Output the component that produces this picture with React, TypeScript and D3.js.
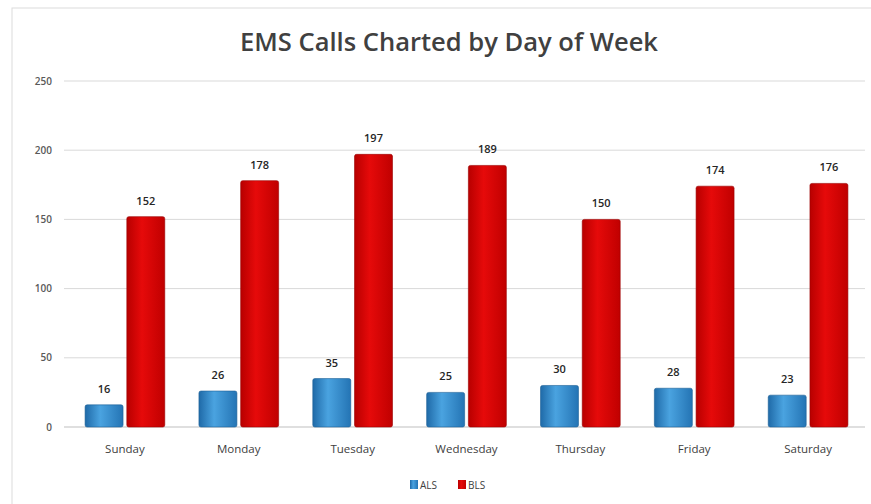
import * as d3 from "d3";
import { useEffect, useRef } from "react";

const days = ["Sunday", "Monday", "Tuesday", "Wednesday", "Thursday", "Friday", "Saturday"];
const alsCalls = [16, 26, 35, 25, 30, 28, 23];
const blsCalls = [152, 178, 197, 189, 150, 174, 176];
const seriesNames = ["ALS", "BLS"];
const yTicks = [0, 50, 100, 150, 200, 250];

const width = 871;
const height = 504;
const margin = { top: 81, right: 6, bottom: 77, left: 68 };

export default function App() {
  const ref = useRef<SVGSVGElement>(null);

  useEffect(() => {
    const svg = d3.select(ref.current);
    svg.selectAll("*").remove();

    const defs = svg.append("defs");
    const blue = defs.append("linearGradient").attr("id", "gBlue").attr("x1", 0).attr("x2", 1).attr("y1", 0).attr("y2", 0);
    blue.append("stop").attr("offset", "0%").attr("stop-color", "#1f6aa8");
    blue.append("stop").attr("offset", "40%").attr("stop-color", "#4aa3e0");
    blue.append("stop").attr("offset", "100%").attr("stop-color", "#2474b4");
    const red = defs.append("linearGradient").attr("id", "gRed").attr("x1", 0).attr("x2", 1).attr("y1", 0).attr("y2", 0);
    red.append("stop").attr("offset", "0%").attr("stop-color", "#b80000");
    red.append("stop").attr("offset", "40%").attr("stop-color", "#e60a0a");
    red.append("stop").attr("offset", "100%").attr("stop-color", "#c00000");

    // panel
    svg.append("rect").attr("x", 12).attr("y", 8).attr("width", 880).attr("height", 520)
      .attr("fill", "white").attr("stroke", "#dcdcdc");

    svg.append("text")
      .attr("x", 449).attr("y", 51)
      .attr("text-anchor", "middle")
      .attr("font-family", "'Open Sans', sans-serif")
      .attr("font-size", 25)
      .attr("font-weight", 600)
      .attr("textLength", 418)
      .attr("lengthAdjust", "spacingAndGlyphs")
      .attr("fill", "#404040")
      .text("EMS Calls Charted by Day of Week");

    const x0 = d3.scaleBand().domain(days).range([margin.left, width - margin.right]).paddingInner(0.3).paddingOuter(0.15);
    const x1 = d3.scaleBand().domain(seriesNames).range([0, x0.bandwidth()]).paddingInner(0.09);
    const y = d3.scaleLinear().domain([0, 250]).range([height - margin.bottom, margin.top]);

    const g = svg.append("g");
    g.selectAll("line.grid").data(yTicks).join("line")
      .attr("x1", margin.left - 4).attr("x2", width - margin.right)
      .attr("y1", (d) => y(d)).attr("y2", (d) => y(d))
      .attr("stroke", (d) => (d === 0 ? "#bfbfbf" : "#d9d9d9"));

    g.selectAll("text.ytick").data(yTicks).join("text")
      .attr("x", 52).attr("y", (d) => y(d) + 3.5)
      .attr("text-anchor", "end")
      .attr("font-family", "'Open Sans', sans-serif")
      .attr("font-size", 10)
      .attr("font-weight", 600)
      .attr("fill", "#595959")
      .text((d) => d);

    const data = days.map((d, i) => ({ day: d, vals: [alsCalls[i], blsCalls[i]] }));
    const groups = g.selectAll("g.day").data(data).join("g")
      .attr("transform", (d) => `translate(${x0(d.day)},0)`);

    groups.selectAll("rect").data((d) => d.vals.map((v, k) => ({ v, k }))).join("rect")
      .attr("x", (d) => x1(seriesNames[d.k])!)
      .attr("width", x1.bandwidth())
      .attr("y", (d) => y(d.v))
      .attr("height", (d) => y(0) - y(d.v))
      .attr("rx", 2)
      .attr("fill", (d) => (d.k === 0 ? "url(#gBlue)" : "url(#gRed)"))
      .attr("stroke", (d) => (d.k === 0 ? "#1d5f95" : "#9a0000"))
      .attr("stroke-width", 0.6);

    groups.selectAll("text.val").data((d) => d.vals.map((v, k) => ({ v, k }))).join("text")
      .attr("x", (d) => x1(seriesNames[d.k])! + x1.bandwidth() / 2)
      .attr("y", (d) => y(d.v) - 12)
      .attr("text-anchor", "middle")
      .attr("font-family", "'Open Sans', sans-serif")
      .attr("font-size", 11)
      .attr("font-weight", 600)
      .attr("fill", "#262626")
      .text((d) => d.v);

    g.selectAll("text.xlab").data(days).join("text")
      .attr("x", (d) => x0(d)! + x0.bandwidth() / 2)
      .attr("y", 453)
      .attr("text-anchor", "middle")
      .attr("font-family", "'Open Sans', sans-serif")
      .attr("font-size", 11.5)
      .attr("fill", "#404040")
      .text((d) => d);

    const legend = svg.append("g").attr("transform", "translate(410,480)");
    seriesNames.forEach((n, i) => {
      const lg = legend.append("g").attr("transform", `translate(${i * 48},0)`);
      lg.append("rect").attr("width", 8).attr("height", 9)
        .attr("fill", i === 0 ? "url(#gBlue)" : "url(#gRed)");
      lg.append("text").attr("x", 10).attr("y", 8.5)
        .attr("font-family", "'Open Sans', sans-serif")
        .attr("font-size", 10)
        .attr("fill", "#404040")
        .text(n);
    });
  }, []);

  return (
    <svg ref={ref} width={width} height={height} style={{ position: "absolute", left: 0, top: 0 }} />
  );
}
